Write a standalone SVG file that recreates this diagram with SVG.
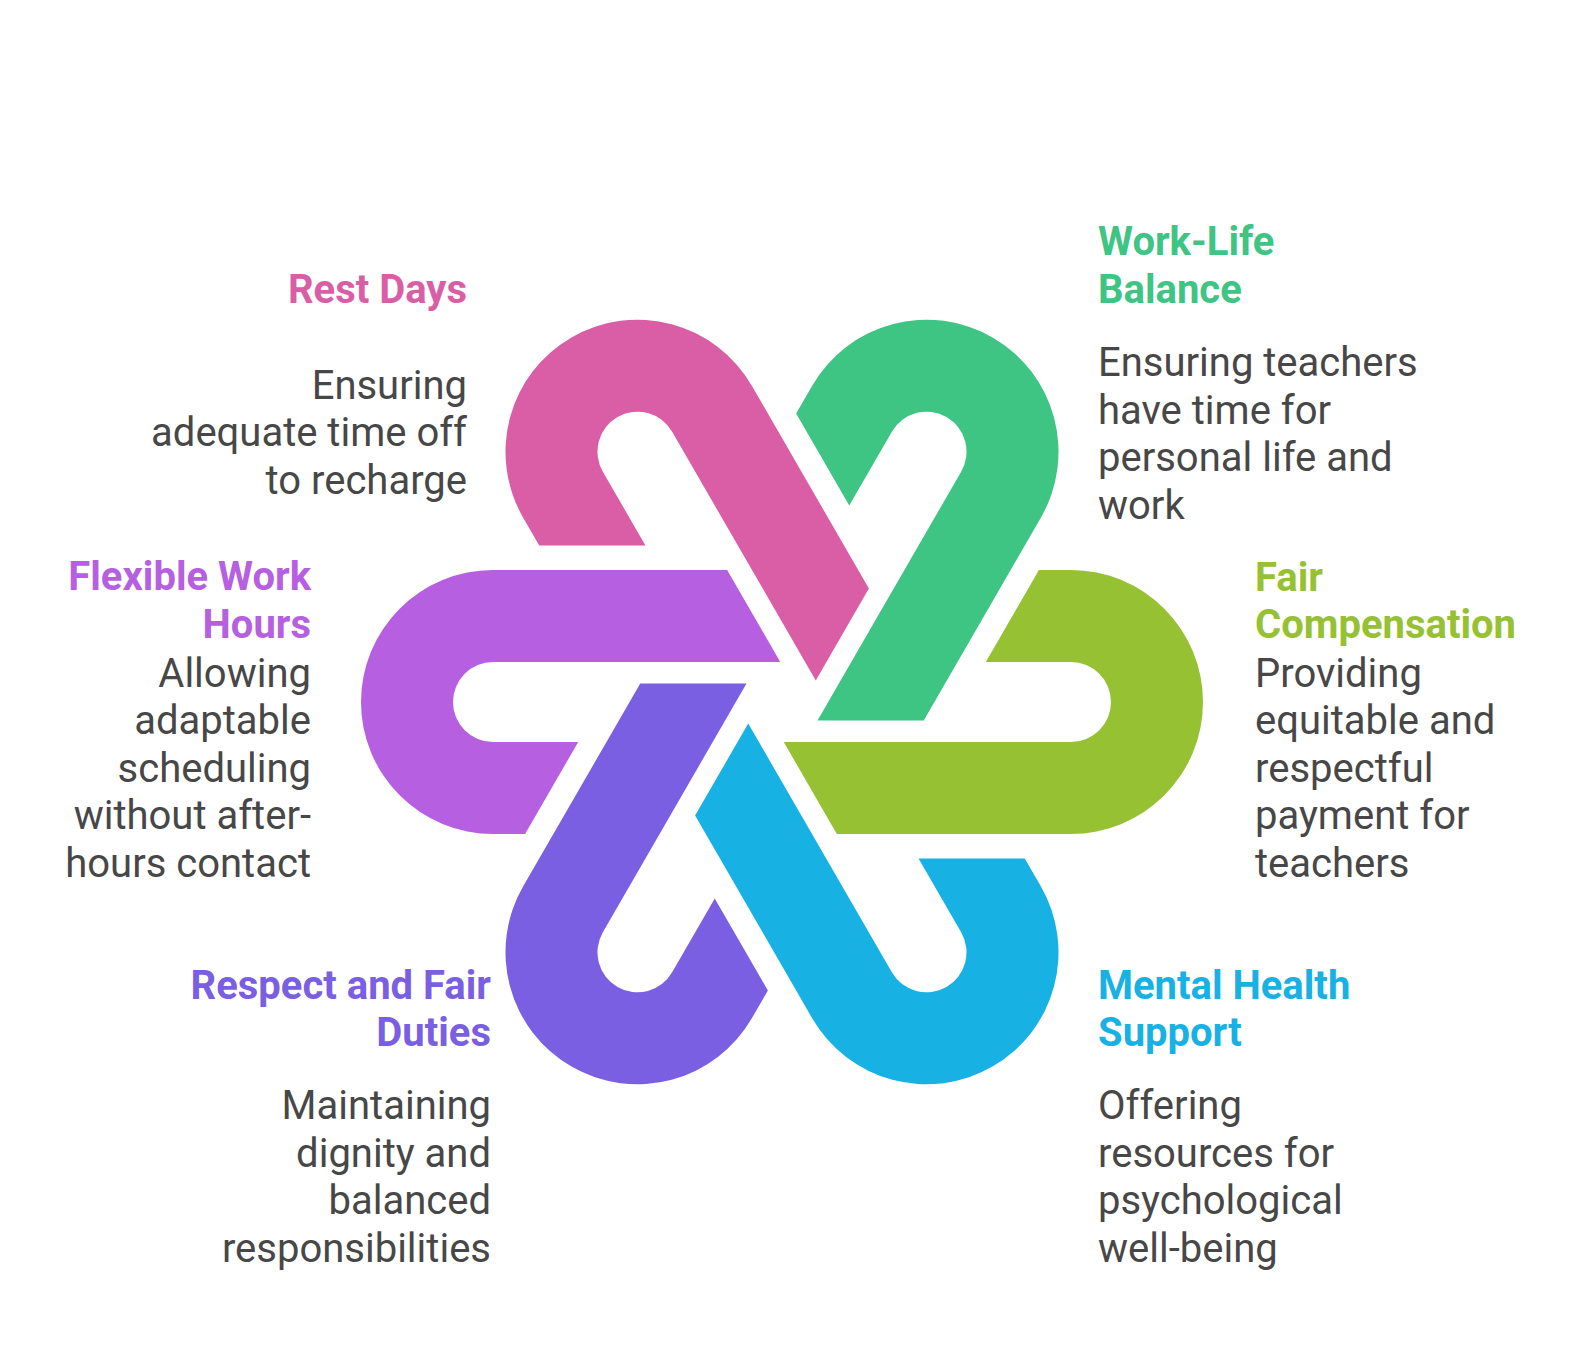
<svg xmlns="http://www.w3.org/2000/svg" xmlns:xlink="http://www.w3.org/1999/xlink" width="1591" height="1372" viewBox="0 0 1591 1372">
<style>
.t{font-family:Roboto,"Liberation Sans",sans-serif;font-weight:700;font-size:40px}
.b{font-family:Roboto,"Liberation Sans",sans-serif;font-weight:400;font-size:40px;fill:#474747}
.r{text-anchor:end}
</style>
<defs>
<path id="hook" d="M -54.85 -132 L -1.73 -40 L -289 -40 A 40 40 0 0 0 -289 40 L -203.8 40 L -256.9 132 L -289 132 A 132 132 0 0 1 -289 -132 Z"/>
</defs>
<rect width="1591" height="1372" fill="#ffffff"/>
<g id="connectors"></g>
<g id="flexible-work-hours">
<use href="#hook" xlink:href="#hook" transform="translate(782 702) rotate(0)" fill="#B65FE0"/>
<text class="t r" fill="#B65FE0"><tspan x="311" y="590">Flexible Work</tspan><tspan x="311" y="638">Hours</tspan></text>
<text class="b r"><tspan x="311" y="686.5">Allowing</tspan><tspan x="311" y="734">adaptable</tspan><tspan x="311" y="781.5">scheduling</tspan><tspan x="311" y="829">without after-</tspan><tspan x="311" y="876.5">hours contact</tspan></text>
</g>
<g id="rest-days">
<use href="#hook" xlink:href="#hook" transform="translate(782 702) rotate(60)" fill="#DA5EA5"/>
<text class="t r" fill="#DA5EA5" x="467" y="302.5">Rest Days</text>
<text class="b r"><tspan x="467" y="398.5">Ensuring</tspan><tspan x="467" y="446">adequate time off</tspan><tspan x="467" y="493.5">to recharge</tspan></text>
</g>
<g id="work-life-balance">
<use href="#hook" xlink:href="#hook" transform="translate(782 702) rotate(120)" fill="#3EC483"/>
<text class="t" fill="#3EC483"><tspan x="1098" y="255">Work-Life</tspan><tspan x="1098" y="302.5">Balance</tspan></text>
<text class="b"><tspan x="1098" y="376">Ensuring teachers</tspan><tspan x="1098" y="423.5">have time for</tspan><tspan x="1098" y="471">personal life and</tspan><tspan x="1098" y="518.5">work</tspan></text>
</g>
<g id="fair-compensation">
<use href="#hook" xlink:href="#hook" transform="translate(782 702) rotate(180)" fill="#96C133"/>
<text class="t" fill="#96C133"><tspan x="1255" y="590.5">Fair</tspan><tspan x="1255" y="638">Compensation</tspan></text>
<text class="b"><tspan x="1255" y="686.5">Providing</tspan><tspan x="1255" y="734">equitable and</tspan><tspan x="1255" y="781.5">respectful</tspan><tspan x="1255" y="829">payment for</tspan><tspan x="1255" y="876.5">teachers</tspan></text>
</g>
<g id="mental-health-support">
<use href="#hook" xlink:href="#hook" transform="translate(782 702) rotate(240)" fill="#18B1E3"/>
<text class="t" fill="#18B1E3"><tspan x="1098" y="998.5">Mental Health</tspan><tspan x="1098" y="1046">Support</tspan></text>
<text class="b"><tspan x="1098" y="1119">Offering</tspan><tspan x="1098" y="1166.5">resources for</tspan><tspan x="1098" y="1214">psychological</tspan><tspan x="1098" y="1261.5">well-being</tspan></text>
</g>
<g id="respect-and-fair-duties">
<use href="#hook" xlink:href="#hook" transform="translate(782 702) rotate(300)" fill="#7B5FE2"/>
<text class="t r" fill="#7B5FE2"><tspan x="491" y="998.5">Respect and Fair</tspan><tspan x="491" y="1046">Duties</tspan></text>
<text class="b r"><tspan x="491" y="1119">Maintaining</tspan><tspan x="491" y="1166.5">dignity and</tspan><tspan x="491" y="1214">balanced</tspan><tspan x="491" y="1261.5">responsibilities</tspan></text>
</g>
</svg>
